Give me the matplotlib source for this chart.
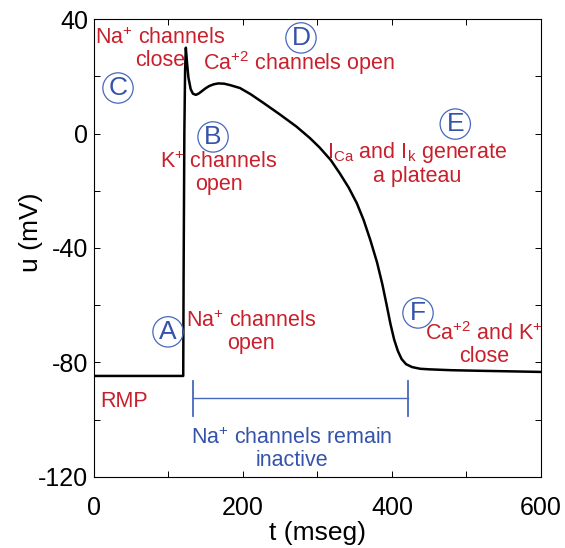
import matplotlib
matplotlib.use("Agg")
import matplotlib.pyplot as plt

plt.rcParams['font.family'] = ['Liberation Sans', 'DejaVu Sans']
plt.rcParams['mathtext.fontset'] = 'custom'
plt.rcParams['mathtext.rm'] = 'Liberation Sans'
plt.rcParams['mathtext.it'] = 'Liberation Sans:italic'
plt.rcParams['mathtext.bf'] = 'Liberation Sans:bold'
plt.rcParams['axes.unicode_minus'] = False

# Cardiac action potential (time in ms, membrane potential in mV)
t_ms = [0, 60, 120, 120.5, 121.5, 122.5, 123.5, 125, 127, 130, 133, 137, 141,
        145, 150, 155, 161, 167, 175, 183, 196, 210, 227, 250, 272, 290,
        303, 318, 330, 342, 353, 362, 371, 380, 387, 393, 398, 403, 408,
        413, 419, 427, 438, 451, 480, 518, 560, 600]
u_mv = [-84.7, -84.7, -84.7, -50, 0, 22, 30, 25, 19.5, 15.5, 13.9, 13.5, 14.0,
        14.8, 15.8, 16.6, 17.2, 17.5, 17.4, 16.9, 15.9, 13.8, 10.8, 6.6, 2.4, -1.6,
        -4.9, -9.3, -13.9, -18.9, -24.4, -30.2, -37.2, -45.0, -52.5, -60.0, -66.5, -72.0, -76.0,
        -78.8, -80.6, -81.6, -82.2, -82.4, -82.7, -82.9, -83.1, -83.3]

# Interval during which Na+ channels stay inactive
inactive_start, inactive_end, inactive_level = 133, 422, -92.3

x_ticks = [0, 200, 400, 600]
x_minor = [100, 300, 500]
y_ticks = [-120, -80, -40, 0, 40]
y_minor = [-100, -60, -20, 20]

RED = '#c8202c'
BLUE = '#3553aa'
BLUE_LIGHT = '#4868bd'

fig = plt.figure(figsize=(5.65, 5.48), dpi=100)
ax = fig.add_axes([0.166, 0.1296, 0.7915, 0.8357])

ax.plot(t_ms, u_mv, color='black', lw=1.8, solid_joinstyle='round')

ax.set_xlim(0, 600)
ax.set_ylim(-120, 40)
ax.set_xticks(x_ticks)
ax.set_xticks(x_minor, minor=True)
ax.set_yticks(y_ticks)
ax.set_yticks(y_minor, minor=True)
ax.tick_params(which='both', direction='in', top=True, right=True,
               length=4.5, width=0.7, labelsize=18)
ax.tick_params(axis='x', which='both', pad=14)
ax.tick_params(axis='y', which='both', pad=4)
for s in ax.spines.values():
    s.set_linewidth(0.8)

ax.set_xlabel('t (mseg)', fontsize=19)
ax.set_ylabel('u (mV)', fontsize=19)
ax.xaxis.label.set_va('center')
ax.xaxis.set_label_coords(0.5, -0.122)
ax.yaxis.label.set_va('center')
ax.yaxis.label.set_ha('center')
ax.yaxis.set_label_coords(-0.14, 0.535)

# bracket for Na+ inactivation
ax.plot([inactive_start, inactive_end], [inactive_level, inactive_level],
        color=BLUE_LIGHT, lw=1.0)
for x in (inactive_start, inactive_end):
    ax.plot([x, x], [inactive_level + 5.8, inactive_level - 6.5],
            color=BLUE_LIGHT, lw=1.3)

tkw = dict(fontsize=15.5, ha='center', va='center', linespacing=1.05)
ax.text(89, 29.3, 'Na$^{+}$ channels\nclose', color=RED, **tkw)
ax.text(275, 24.6, 'Ca$^{+2}$ channels open', color=RED, **tkw)
ax.text(168, -14.0, 'K$^{+}$ channels\nopen', color=RED, **tkw)
ax.text(434, -10.6, 'I$_{\\mathrm{Ca}}$ and I$_{\\mathrm{k}}$ generate\na plateau',
        color=RED, **tkw)
ax.text(211, -69.5, 'Na$^{+}$ channels\nopen', color=RED, **tkw)
ax.text(524, -73.8, 'Ca$^{+2}$ and K$^{+}$\nclose', color=RED, **tkw)
ax.text(8, -93.5, 'RMP', color=RED, fontsize=15.5, ha='left', va='center')
ax.text(266, -110.2, 'Na$^{+}$ channels remain\ninactive', color=BLUE, **tkw)

# circled phase letters
letters = {'A': (99.6, -69.3), 'B': (160, -1.2), 'C': (32.5, 15.9),
           'D': (278, 33.4), 'E': (485, 3.3), 'F': (435, -62.7)}
for lab, (x, y) in letters.items():
    ax.text(x, y, lab, color=BLUE, fontsize=19, ha='center', va='center',
            bbox=dict(boxstyle='circle,pad=0.12', fc='none', ec=BLUE_LIGHT, lw=0.9))

fig.savefig('out.png', dpi=100)
